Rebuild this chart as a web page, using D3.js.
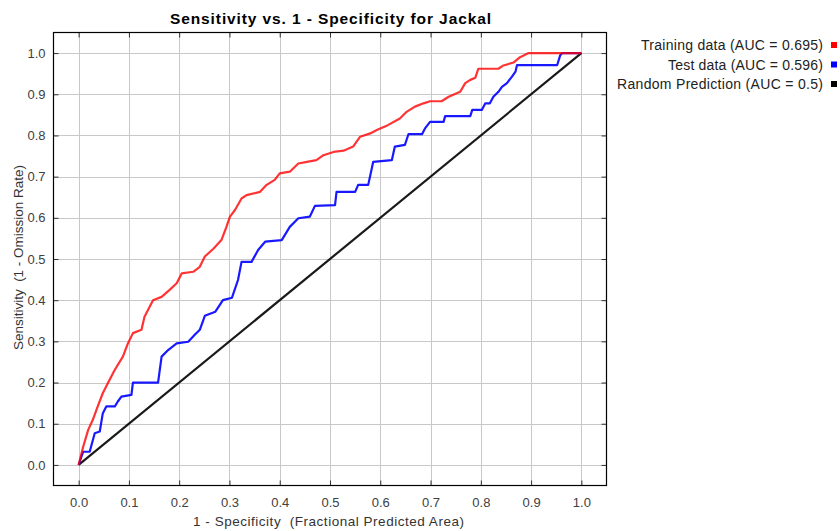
<!DOCTYPE html>
<html>
<head>
<meta charset="utf-8">
<script src="https://cdn.jsdelivr.net/npm/d3@7"></script>
<style>
  html, body { margin: 0; padding: 0; background: #fff; }
  svg { display: block; font-family: "Liberation Sans", Arial, sans-serif; }
  text { white-space: pre; }
</style>
</head>
<body>
<script>
const titleText = "Sensitivity vs. 1 - Specificity for Jackal";
const xLabel = "1 - Specificity  (Fractional Predicted Area)";
const yLabel = "Sensitivity  (1 - Omission Rate)";
const tickValues = [0, 0.1, 0.2, 0.3, 0.4, 0.5, 0.6, 0.7, 0.8, 0.9, 1.0];
const seriesNames = ["Training data (AUC = 0.695)", "Test data (AUC = 0.596)", "Random Prediction (AUC = 0.5)"];
const seriesColors = ["#ff0000", "#0000ff", "#000000"];

const trainFpr = [0, 0.009, 0.019, 0.028, 0.038, 0.048, 0.058, 0.072, 0.088, 0.098, 0.108, 0.125, 0.131, 0.148, 0.165, 0.181, 0.195, 0.205, 0.228, 0.241, 0.251, 0.268, 0.284, 0.294, 0.301, 0.311, 0.324, 0.334, 0.361, 0.374, 0.390, 0.400, 0.420, 0.437, 0.454, 0.473, 0.487, 0.507, 0.527, 0.546, 0.560, 0.580, 0.593, 0.615, 0.639, 0.653, 0.669, 0.686, 0.699, 0.722, 0.736, 0.759, 0.769, 0.779, 0.789, 0.795, 0.835, 0.845, 0.865, 0.878, 0.895, 1.0];
const trainTpr = [0, 0.044, 0.085, 0.109, 0.142, 0.174, 0.198, 0.231, 0.263, 0.295, 0.320, 0.328, 0.360, 0.400, 0.408, 0.425, 0.441, 0.465, 0.469, 0.481, 0.506, 0.525, 0.546, 0.578, 0.603, 0.619, 0.647, 0.655, 0.663, 0.680, 0.692, 0.708, 0.712, 0.732, 0.736, 0.740, 0.752, 0.760, 0.763, 0.773, 0.797, 0.805, 0.813, 0.825, 0.841, 0.858, 0.870, 0.878, 0.883, 0.883, 0.894, 0.906, 0.927, 0.935, 0.940, 0.962, 0.962, 0.970, 0.977, 0.990, 1.0, 1.0];

const testFpr = [0, 0.009, 0.022, 0.032, 0.042, 0.048, 0.055, 0.072, 0.078, 0.085, 0.105, 0.108, 0.158, 0.165, 0.178, 0.195, 0.218, 0.231, 0.241, 0.251, 0.272, 0.287, 0.305, 0.317, 0.324, 0.344, 0.357, 0.371, 0.404, 0.420, 0.437, 0.460, 0.470, 0.510, 0.513, 0.550, 0.556, 0.576, 0.586, 0.623, 0.629, 0.649, 0.656, 0.683, 0.689, 0.699, 0.726, 0.729, 0.779, 0.783, 0.802, 0.809, 0.818, 0.825, 0.835, 0.842, 0.852, 0.862, 0.869, 0.872, 0.952, 0.958, 0.962, 1.0];
const testTpr = [0, 0.032, 0.032, 0.077, 0.081, 0.125, 0.142, 0.142, 0.154, 0.166, 0.170, 0.200, 0.200, 0.263, 0.279, 0.295, 0.299, 0.316, 0.328, 0.362, 0.372, 0.400, 0.406, 0.449, 0.493, 0.493, 0.522, 0.542, 0.546, 0.578, 0.599, 0.603, 0.629, 0.631, 0.663, 0.663, 0.680, 0.680, 0.736, 0.740, 0.773, 0.777, 0.803, 0.803, 0.817, 0.833, 0.833, 0.847, 0.847, 0.862, 0.862, 0.878, 0.878, 0.894, 0.906, 0.918, 0.927, 0.943, 0.955, 0.971, 0.971, 0.995, 1.0, 1.0];

const randomFpr = [0, 1];
const randomTpr = [0, 1];

const W = 840, H = 531;
const svg = d3.select("body").append("svg").attr("width", W).attr("height", H);

const x = d3.scaleLinear().domain([-0.05, 1.05]).range([53.5, 606.5]);
const y = d3.scaleLinear().domain([-0.05, 1.05]).range([485.5, 32.5]);

// grid
const grid = svg.append("g");
grid.selectAll("line.gx").data(tickValues).join("line").attr("class", "gx")
  .attr("x1", d => Math.round(x(d)) + 0.5).attr("x2", d => Math.round(x(d)) + 0.5)
  .attr("y1", y.range()[0]).attr("y2", y.range()[1])
  .attr("stroke", "#c8c8c8").attr("stroke-width", 1);
grid.selectAll("line.gy").data(tickValues).join("line").attr("class", "gy")
  .attr("y1", d => Math.round(y(d)) + 0.5).attr("y2", d => Math.round(y(d)) + 0.5)
  .attr("x1", x.range()[0]).attr("x2", x.range()[1])
  .attr("stroke", "#c8c8c8").attr("stroke-width", 1);

// axes (ticks inward)
const axBottom = svg.append("g").attr("transform", `translate(0,${y.range()[0]})`)
  .call(d3.axisBottom(x).tickValues(tickValues).tickFormat(d3.format(".1f")).tickSizeInner(-5).tickSizeOuter(0).tickPadding(12));
const axTop = svg.append("g").attr("transform", `translate(0,${y.range()[1]})`)
  .call(d3.axisTop(x).tickValues(tickValues).tickFormat("").tickSizeInner(-5).tickSizeOuter(0));
const axLeft = svg.append("g").attr("transform", `translate(${x.range()[0]},0)`)
  .call(d3.axisLeft(y).tickValues(tickValues).tickFormat(d3.format(".1f")).tickSizeInner(-5).tickSizeOuter(0).tickPadding(8));
const axRight = svg.append("g").attr("transform", `translate(${x.range()[1]},0)`)
  .call(d3.axisRight(y).tickValues(tickValues).tickFormat("").tickSizeInner(-5).tickSizeOuter(0));
[axBottom, axTop, axLeft, axRight].forEach(g => {
  g.select(".domain").remove();
  g.selectAll(".tick line").attr("stroke", "#333");
  g.selectAll("text").attr("fill", "#404040").style("font-size", "13px").attr("font-family", "'Liberation Sans', Arial, sans-serif");
});

// frame
svg.append("rect")
  .attr("x", x.range()[0]).attr("y", y.range()[1])
  .attr("width", x.range()[1] - x.range()[0]).attr("height", y.range()[0] - y.range()[1])
  .attr("fill", "none").attr("stroke", "#000").attr("stroke-width", 1.2);

// lines
const line = d3.line().x(d => x(d[0])).y(d => y(d[1]));
const plot = svg.append("g");
const series = [
  d3.zip(randomFpr, randomTpr),
  d3.zip(testFpr, testTpr),
  d3.zip(trainFpr, trainTpr)
];
const colorsOrder = [seriesColors[2], seriesColors[1], seriesColors[0]];
plot.selectAll("path").data(series).join("path")
  .attr("d", line)
  .attr("fill", "none")
  .attr("stroke", (d, i) => colorsOrder[i])
  .attr("stroke-width", 2.2)
  .attr("stroke-opacity", (d, i) => i === 2 ? 0.8 : 0.9)
  .attr("stroke-linejoin", "round");

// title
svg.append("text").attr("x", 170).attr("y", 24)
  .attr("textLength", 321).attr("lengthAdjust", "spacing")
  .style("font-size", "15.5px").style("font-weight", "bold").attr("fill", "#000")
  .text(titleText);

// axis labels
svg.append("text").attr("x", 193).attr("y", 526)
  .attr("textLength", 271).attr("lengthAdjust", "spacing")
  .style("font-size", "13.5px").attr("fill", "#333").text(xLabel);
svg.append("text").attr("transform", "translate(23,350) rotate(-90)")
  .attr("textLength", 185).attr("lengthAdjust", "spacing")
  .style("font-size", "13.5px").attr("fill", "#333").text(yLabel);

// legend
const legendLengths = [182, 155, 206];
const leg = svg.append("g");
seriesNames.forEach((name, i) => {
  const yy = 45 + i * 19.5;
  leg.append("text").attr("x", 823 - legendLengths[i]).attr("y", yy + 5)
    .attr("textLength", legendLengths[i]).attr("lengthAdjust", "spacing")
    .style("font-size", "14px").attr("fill", "#222").text(name);
  leg.append("rect").attr("x", 831).attr("y", yy - 3).attr("width", 6).attr("height", 6)
    .attr("fill", seriesColors[i]);
});
</script>
</body>
</html>
